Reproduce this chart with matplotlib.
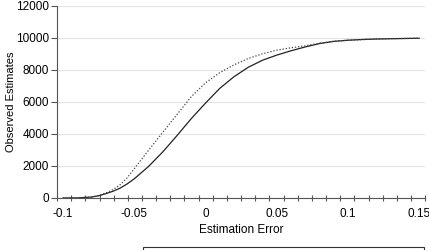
import numpy as np
import matplotlib
matplotlib.use("Agg")
import matplotlib.pyplot as plt
from matplotlib.ticker import FixedLocator

plt.rcParams['font.family'] = ['Liberation Sans', 'DejaVu Sans']

# estimation error grid and the two cumulative curves
error = [-0.1, -0.09, -0.08, -0.075, -0.07, -0.065, -0.06, -0.055, -0.05, -0.04,
         -0.03, -0.02, -0.01, 0.0, 0.01, 0.02, 0.03, 0.04, 0.05, 0.06,
         0.07, 0.08, 0.09, 0.10, 0.11, 0.12, 0.13, 0.14, 0.15]
mle_est = [0, 5, 60, 140, 270, 420, 610, 880, 1200, 1970,
           2880, 3900, 4960, 5930, 6850, 7580, 8170, 8610, 8930, 9200,
           9440, 9650, 9790, 9860, 9905, 9935, 9955, 9970, 9985]
mvh_est = [0, 5, 60, 150, 310, 520, 820, 1260, 1830, 2980,
           4100, 5220, 6330, 7200, 7830, 8320, 8720, 9010, 9240, 9390,
           9510, 9680, 9790, 9860, 9905, 9935, 9955, 9970, 9985]

x_labels = [-0.1, -0.05, 0, 0.05, 0.1, 0.15]
y_ticks = [0, 2000, 4000, 6000, 8000, 10000, 12000]

fig = plt.figure(figsize=(4.29, 2.5), dpi=100)
ax = fig.add_axes([0.133, 0.208, 0.858, 0.768])

ax.plot(error, mle_est, color='#222222', lw=0.9, label='MLE Estimates')
ax.plot(error, mvh_est, color='#444444', lw=0.9, ls=(0, (1, 1.5)), label='MVH Estimates')

x_left, x_right = -0.1042, 0.1542
ax.set_xlim(x_left, x_right)
ax.set_ylim(0, 12000)

ax.set_xticks(x_labels)
ax.set_xticklabels(['-0.1', '-0.05', '0', '0.05', '0.1', '0.15'])
ax.xaxis.set_minor_locator(FixedLocator(np.linspace(x_left, x_right, 27)))
ax.tick_params(axis='x', which='major', length=0, labelsize=8.5, pad=7)
ax.tick_params(axis='x', which='minor', direction='inout', length=4, width=0.8, color='#555555')
ax.set_yticks(y_ticks)
ax.tick_params(axis='y', which='major', direction='out', length=4, width=0.8,
               color='#555555', labelsize=8.5, pad=2)

ax.grid(axis='y', color='#e4e4e4', lw=0.8)
ax.set_axisbelow(True)
for s in ['top', 'right']:
    ax.spines[s].set_visible(False)
for s in ['left', 'bottom']:
    ax.spines[s].set_color('#555555')
    ax.spines[s].set_linewidth(0.8)

ax.set_xlabel('Estimation Error', fontsize=8.5, labelpad=3)
ax.set_ylabel('Observed Estimates', fontsize=8)
ax.yaxis.set_label_coords(-0.112, 0.5)

leg = ax.legend(loc='upper left', bbox_to_anchor=(0.333, 0.012), bbox_transform=fig.transFigure,
                ncol=2, fontsize=8.5, frameon=True, fancybox=False, borderaxespad=0,
                handlelength=2.5, columnspacing=3, borderpad=0.3)
leg.get_frame().set_edgecolor('black')
leg.get_frame().set_linewidth(0.8)

fig.savefig('out.png', dpi=100)
